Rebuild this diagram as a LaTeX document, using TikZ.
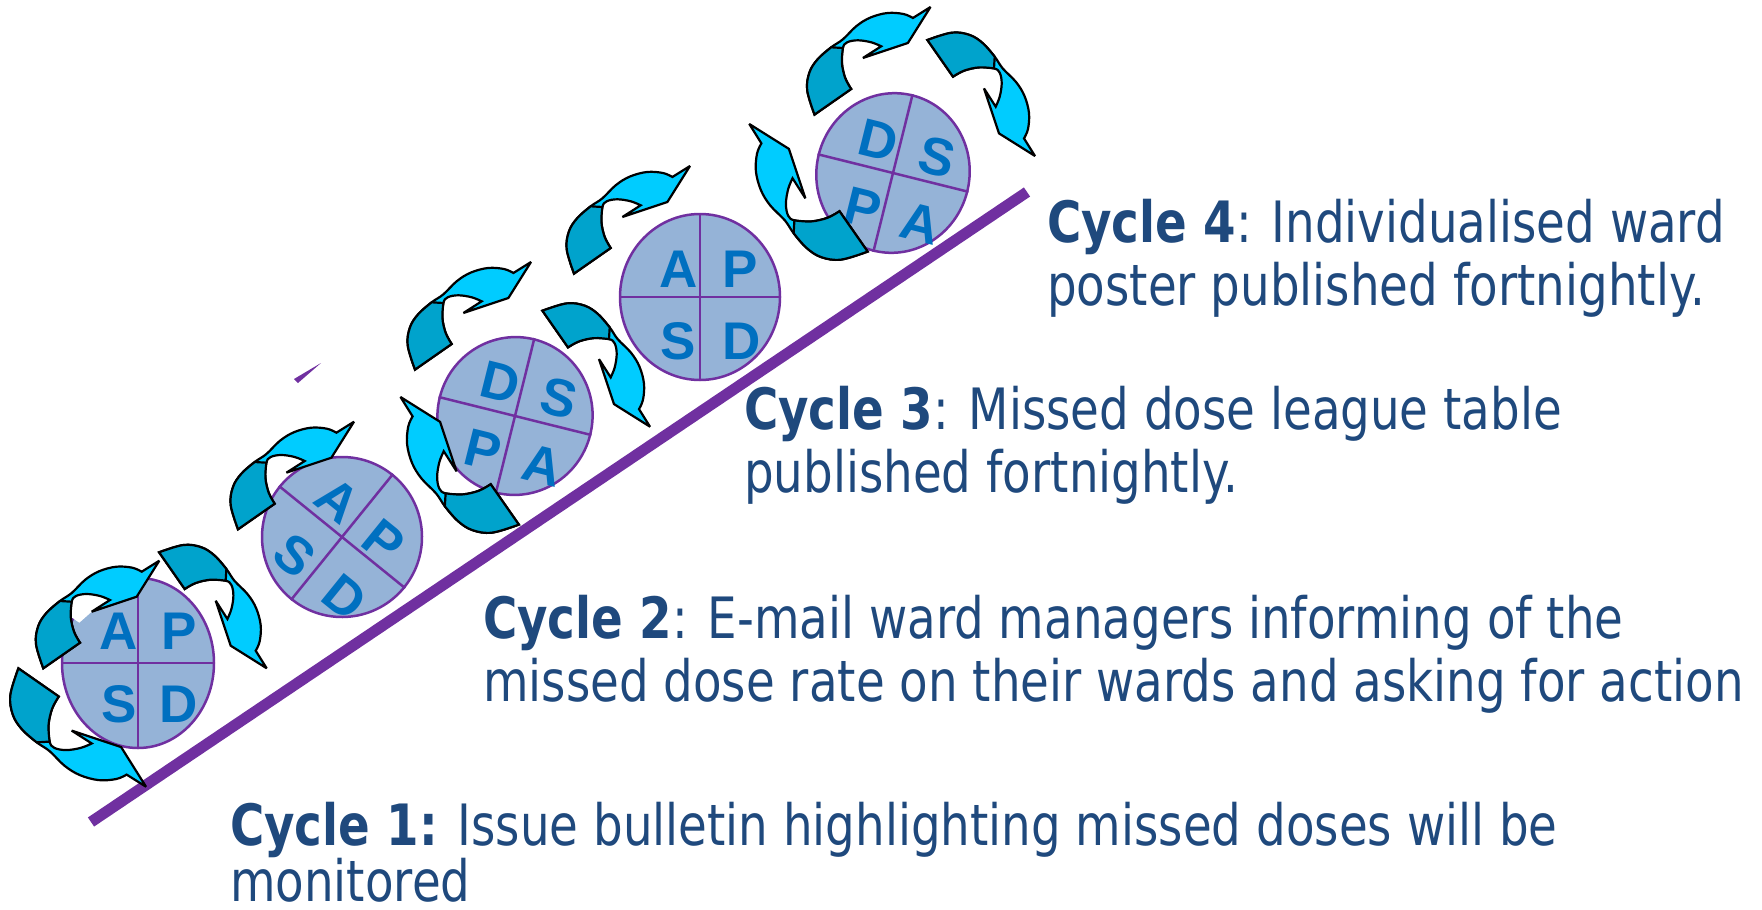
\documentclass[tikz,border=0pt]{standalone}
\usepackage{fontspec}
\setmainfont{DejaVu Sans}[FakeStretch=0.82]
\newfontfamily\letterfont{Liberation Sans}
\usetikzlibrary{shapes.geometric}

\definecolor{ringfill}{HTML}{95B3D7}
\definecolor{ringedge}{HTML}{7030A0}
\definecolor{lettercol}{HTML}{0070C0}
\definecolor{arrlight}{HTML}{00CCFF}
\definecolor{arrdark}{HTML}{00A3CC}
\definecolor{captioncol}{HTML}{1F497D}

\begin{document}
\begin{tikzpicture}[x=1pt,y=-1pt,
  pdcaring/.style={draw=ringedge, line width=2.5pt, fill=ringfill, ellipse, inner sep=0pt},
  divider/.style={draw=ringedge, line width=2.5pt},
  pdcaletter/.style={text=lettercol, font=\letterfont\bfseries\fontsize{53}{53}\selectfont, inner sep=0pt},
  ribbon/.style={draw=black, line width=2.2pt, line join=miter, miter limit=4},
  captiontext/.style={anchor=base west, inner sep=0pt, text=captioncol, font=\fontsize{57}{63}\selectfont},
  axisline/.style={draw=ringedge, line width=11pt},
  % twisted curved arrow, origin at the arrow tip
  cyclearrow/.pic={
    \fill[white] (-88.6,56) -- (-87.6,41) -- (-83.3,35.3) -- (-72.6,33.3) -- (-59.3,35.3)
      -- (-49.3,39.3) -- (-67.6,51) -- (-80,62) -- cycle;
    \draw[ribbon, fill=arrlight]
      plot[smooth, tension=0.6] coordinates {(-116,107.6) (-123.3,83.3) (-121,65.3) (-112.6,52)
        (-99.3,40.3) (-87.6,32.3) (-74,19) (-60,10.5) (-43,6) (-27,7) (-17.6,11)}
      -- (0,0) -- (-22.6,36) -- (-67.6,51) -- (-49.3,39.3)
      -- plot[smooth, tension=0.6] coordinates {(-49.3,39.3) (-59.3,35.3) (-72.6,33.3) (-83.3,35.3)
        (-87.6,41) (-88.6,56) (-85.3,71) (-79.3,82)}
      -- cycle;
    \draw[ribbon, fill=arrdark]
      plot[smooth, tension=0.6] coordinates {(-116,107.6) (-123.3,83.3) (-121,65.3) (-112.6,52) (-99.3,40.3)}
      -- plot[smooth, tension=0.6] coordinates {(-87.6,41) (-88.6,56) (-85.3,71) (-79.3,82)}
      -- cycle;
  }
]
\useasboundingbox (0,0) rectangle (1762,910);

% rising baseline
\coordinate (l0) at (91,822);
\coordinate (l1) at (1027,192);
\draw[axisline] (l0) -- (l1);
\fill[ringedge] (294,379) -- (298,383) -- (321,363) -- cycle;

% cycle 1
\node[pdcaring, minimum width=152pt, minimum height=170pt] (r1) at (138,663) {};
\draw[divider] (r1.north) -- (r1.south);
\draw[divider] (r1.west) -- (r1.east);
\node[pdcaletter] (r1a) at (119,631) {A};
\node[pdcaletter] (r1p) at (179,631) {P};
\node[pdcaletter] (r1s) at (119,704) {S};
\node[pdcaletter] (r1d) at (179,704) {D};

% cycle 2
\node[pdcaring, minimum width=160pt, minimum height=160pt, rotate=-39] (r2) at (342,537) {};
\draw[divider] (r2.north) -- (r2.south);
\draw[divider] (r2.west) -- (r2.east);
\node[pdcaletter, rotate=-39] (r2a) at (338,500) {A};
\node[pdcaletter, rotate=-39] (r2p) at (384,541) {P};
\node[pdcaletter, rotate=-39] (r2d) at (345,597) {D};
\node[pdcaletter, rotate=-39] (r2s) at (295,555) {S};

% cycle 3
\node[pdcaring, minimum width=155pt, minimum height=158pt, rotate=-14] (r3) at (515,416) {};
\draw[divider] (r3.north) -- (r3.south);
\draw[divider] (r3.west) -- (r3.east);
\node[pdcaletter, rotate=-14] (r3d) at (500,382) {D};
\node[pdcaletter, rotate=-14] (r3s) at (559,398) {S};
\node[pdcaletter, rotate=-14] (r3p) at (483,450) {P};
\node[pdcaletter, rotate=-14] (r3a) at (542,465) {A};

% cycle 4
\node[pdcaring, minimum width=160pt, minimum height=166pt] (r4) at (700,297) {};
\draw[divider] (r4.north) -- (r4.south);
\draw[divider] (r4.west) -- (r4.east);
\node[pdcaletter] (r4a) at (679,269) {A};
\node[pdcaletter] (r4p) at (740,269) {P};
\node[pdcaletter] (r4s) at (678,341) {S};
\node[pdcaletter] (r4d) at (742,341) {D};

% cycle 5
\node[pdcaring, minimum width=153pt, minimum height=160pt, rotate=-14] (r5) at (893,173) {};
\draw[divider] (r5.north) -- (r5.south);
\draw[divider] (r5.west) -- (r5.east);
\node[pdcaletter, rotate=-14] (r5d) at (878,140) {D};
\node[pdcaletter, rotate=-14] (r5s) at (937,157) {S};
\node[pdcaletter, rotate=-14] (r5p) at (863,208) {P};
\node[pdcaletter, rotate=-14] (r5a) at (920,223) {A};

% curved arrows round the cycles
\pic (a1) at (159.3,560.7) {cyclearrow};
\pic[yscale=-1, scale=1.1] (a2) at (146,786.7) {cyclearrow};
\pic[rotate=-90] (a3) at (266.7,668.3) {cyclearrow};
\pic (b1) at (354,421.7) {cyclearrow};
\pic (c1) at (531,262) {cyclearrow};
\pic[rotate=90, scale=1.1] (c2) at (400.5,397) {cyclearrow};
\pic[rotate=-90] (c3) at (650,426.7) {cyclearrow};
\pic (d1) at (690,166) {cyclearrow};
\pic (e1) at (930.5,7) {cyclearrow};
\pic[rotate=90, scale=1.1] (e2) at (749.3,124) {cyclearrow};
\pic[rotate=-90] (e3) at (1035,156) {cyclearrow};

% captions
\node[captiontext] (c4a) at (1047,242) {\textbf{Cycle 4}: Individualised ward};
\node[captiontext] (c4b) at (1047,305) {poster published fortnightly.};
\node[captiontext] (c3a) at (744,429) {\textbf{Cycle 3}: Missed dose league table};
\node[captiontext] (c3b) at (744,492) {published fortnightly.};
\node[captiontext] (c2a) at (483,638) {\textbf{Cycle 2}: E-mail ward managers informing of the};
\node[captiontext] (c2b) at (483,701) {missed dose rate on their wards and asking for action};
\node[captiontext] (c1a) at (230,845) {\textbf{Cycle 1:} Issue bulletin highlighting missed doses will be};
\node[captiontext] (c1b) at (230,901) {monitored};
\end{tikzpicture}
\end{document}
